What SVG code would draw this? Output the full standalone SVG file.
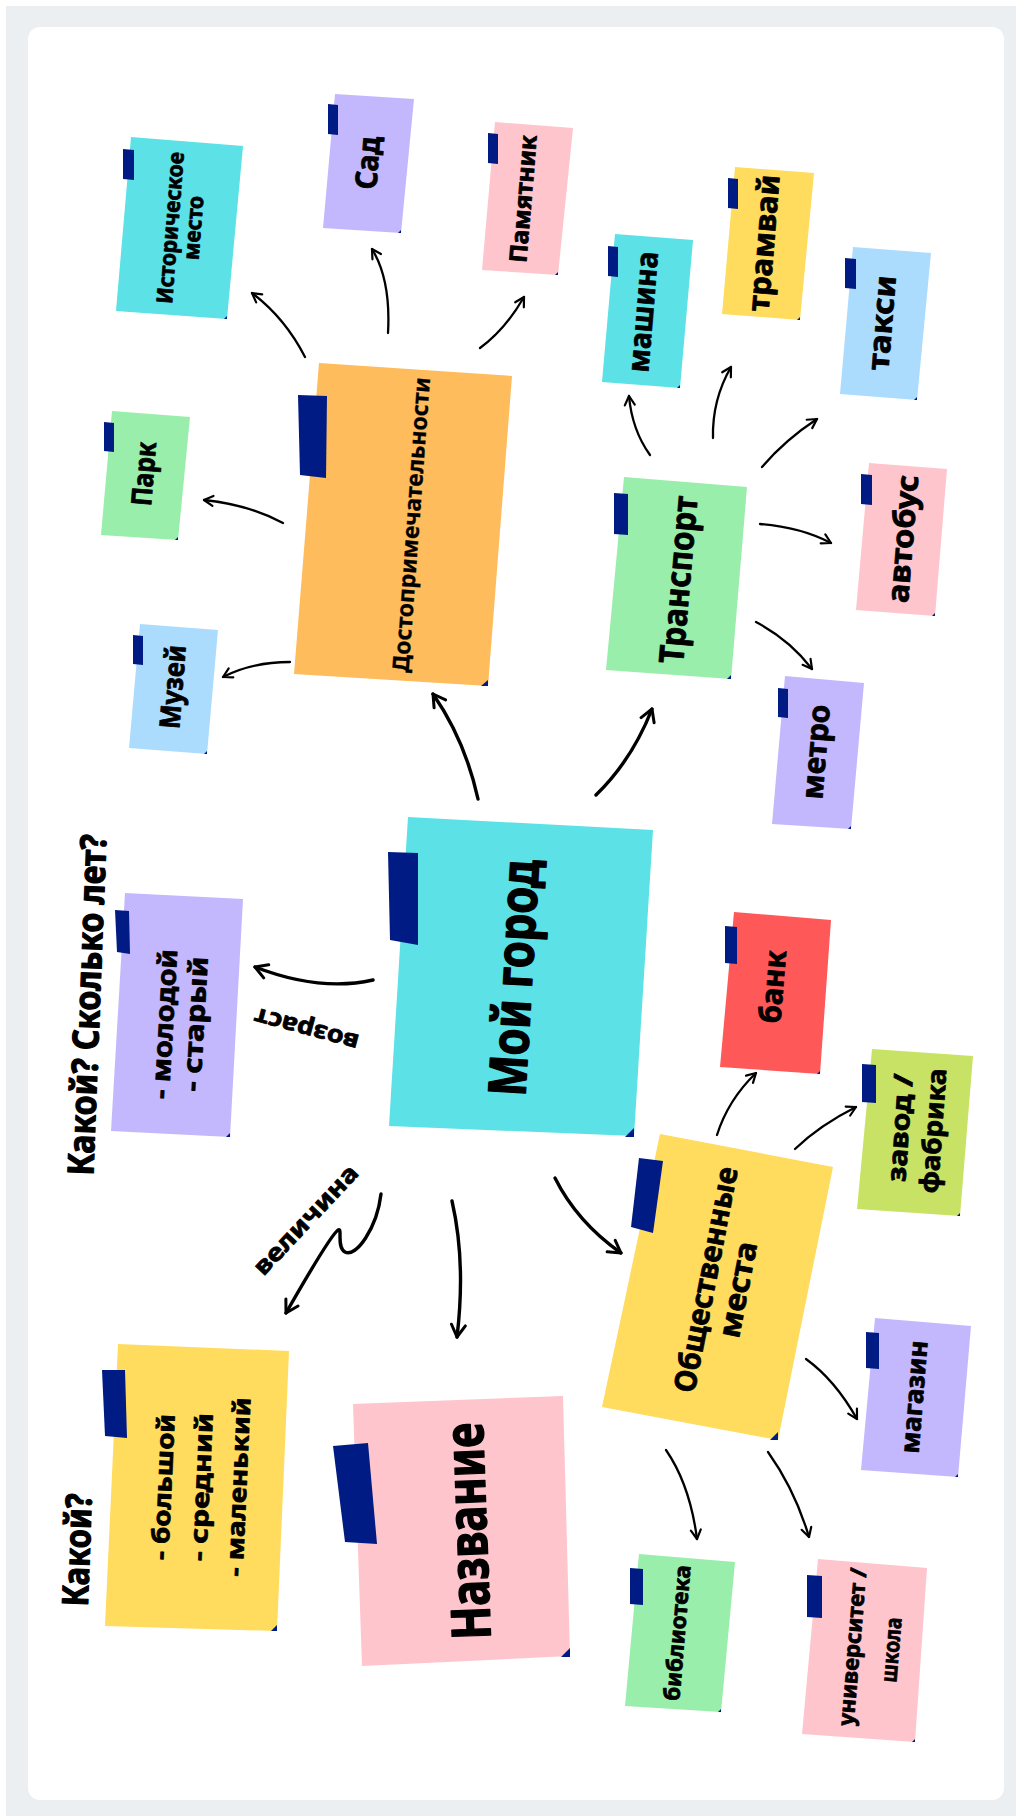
<svg xmlns="http://www.w3.org/2000/svg" width="1016" height="1816" viewBox="0 0 1016 1816">
<defs>
<style>
.t{font-family:"Noto Sans","DejaVu Sans",sans-serif;font-weight:700;fill:#000;stroke:#000;stroke-width:0.8px;stroke-linejoin:round;text-anchor:middle;dominant-baseline:middle}
.lt{stroke-width:0.3px}
.cyan{fill:#5CE1E6}.purple{fill:#C3B8FD}.pink{fill:#FEC5CD}.yellow{fill:#FFDB5E}.blue{fill:#ABDCFE}.green{fill:#98EEAA}.orange{fill:#FEBC5C}.red{fill:#FF5858}.lime{fill:#C8E265}
.tape,.curl{fill:#011B85}
.c{fill:none;stroke:#000;stroke-linecap:round;stroke-linejoin:round}
.c1{stroke-width:3.4;marker-end:url(#ah)}
.c2{stroke-width:2.3;marker-end:url(#as)}
</style>
<marker id="ah" viewBox="-2 -2 16 18" refX="12" refY="7" markerWidth="16" markerHeight="18" orient="auto" markerUnits="userSpaceOnUse"><path d="M0,0 L12,7 L0,14" fill="none" stroke="#000" stroke-width="3" stroke-linecap="round" stroke-linejoin="round"/></marker>
<marker id="as" viewBox="-2 -2 13 14" refX="9" refY="5" markerWidth="13" markerHeight="14" orient="auto" markerUnits="userSpaceOnUse"><path d="M0,0 L9,5 L0,10" fill="none" stroke="#000" stroke-width="2.2" stroke-linecap="round" stroke-linejoin="round"/></marker>
</defs>
<rect x="6" y="6" width="1010" height="1810" fill="#ECEFF2"/>
<rect x="28" y="27" width="976" height="1773" rx="12" fill="#FFFFFF"/>

<g id="connectors">
<path class="c c2" d="M305,357 Q285,318 252,293"/>
<path class="c c2" d="M388,333 Q391,280 372,249"/>
<path class="c c2" d="M480,348 Q505,330 524,297"/>
<path class="c c2" d="M283,523 Q250,505 204,500"/>
<path class="c c2" d="M290,662 Q252,662 223,677"/>
<path class="c c2" d="M650,455 Q632,430 629,396"/>
<path class="c c2" d="M713,438 Q712,400 731,367"/>
<path class="c c2" d="M762,467 Q785,440 817,419"/>
<path class="c c2" d="M760,524 Q800,527 831,543"/>
<path class="c c2" d="M756,622 Q790,640 812,669"/>
<path class="c c1" d="M478,799 Q465,740 433,694"/>
<path class="c c1" d="M596,795 Q632,760 652,709"/>
<path class="c c1" d="M373,980 Q320,992 255,967"/>
<path class="c c1" d="M381,1194 C377,1228 356,1258 345,1252 C336,1247 343,1227 338,1230 Q330,1236 286,1313"/>
<path class="c c1" d="M452,1201 Q466,1262 457,1337"/>
<path class="c c1" d="M555,1178 Q577,1222 621,1253"/>
<path class="c c2" d="M717,1135 Q728,1100 756,1073"/>
<path class="c c2" d="M795,1149 Q820,1125 856,1107"/>
<path class="c c2" d="M806,1359 Q835,1380 857,1419"/>
<path class="c c2" d="M666,1450 Q690,1485 697,1539"/>
<path class="c c2" d="M768,1452 Q795,1490 809,1537"/>
</g>

<g id="n-istoricheskoe">
<polygon class="cyan" points="131,137 243,146 227,319 116,311"/>
<polygon class="tape" points="123,149 134,150 134,180 123,179"/>
<polygon class="curl" points="224,319 227,316 227,319"/>
<text class="t" transform="translate(172,228) rotate(-85.4)" font-size="22" textLength="152" lengthAdjust="spacingAndGlyphs">Историческое</text>
<text class="t" transform="translate(195,228) rotate(-85.4)" font-size="22" textLength="64" lengthAdjust="spacingAndGlyphs">место</text>
</g>

<g id="n-sad">
<polygon class="purple" points="335,94 414,99 401,233 323,228"/>
<polygon class="tape" points="328,104 338,105 338,135 328,134"/>
<polygon class="curl" points="398,233 401,230 401,233"/>
<text class="t" transform="translate(370,163) rotate(-85.7)" font-size="30" textLength="53" lengthAdjust="spacingAndGlyphs">Сад</text>
</g>

<g id="n-pamyatnik">
<polygon class="pink" points="495,122 573,128 558,275 482,270"/>
<polygon class="tape" points="488,133 498,134 498,164 488,163"/>
<polygon class="curl" points="555,275 558,272 558,275"/>
<text class="t" transform="translate(525,199) rotate(-85.3)" font-size="24" textLength="128" lengthAdjust="spacingAndGlyphs">Памятник</text>
</g>

<g id="n-mashina">
<polygon class="cyan" points="615,234 693,240 680,388 602,382"/>
<polygon class="tape" points="608,246 618,247 618,277 608,276"/>
<polygon class="curl" points="677,388 680,385 680,388"/>
<text class="t" transform="translate(645,312) rotate(-85.3)" font-size="30" textLength="121" lengthAdjust="spacingAndGlyphs">машина</text>
</g>

<g id="n-tramvay">
<polygon class="yellow" points="735,167 814,173 800,320 722,314"/>
<polygon class="tape" points="728,178 738,179 738,209 728,208"/>
<polygon class="curl" points="797,320 800,317 800,320"/>
<text class="t" transform="translate(766,243) rotate(-85.3)" font-size="30" textLength="137" lengthAdjust="spacingAndGlyphs">трамвай</text>
</g>

<g id="n-taksi">
<polygon class="blue" points="853,247 931,253 917,400 840,394"/>
<polygon class="tape" points="845,258 856,259 856,289 845,288"/>
<polygon class="curl" points="914,400 917,397 917,400"/>
<text class="t" transform="translate(884,323) rotate(-85.4)" font-size="30" textLength="95" lengthAdjust="spacingAndGlyphs">такси</text>
</g>

<g id="n-avtobus">
<polygon class="pink" points="869,463 947,469 935,616 856,610"/>
<polygon class="tape" points="861,474 872,475 872,505 861,504"/>
<polygon class="curl" points="932,616 935,613 935,616"/>
<text class="t" transform="translate(905,539) rotate(-85.4)" font-size="30" textLength="128" lengthAdjust="spacingAndGlyphs">автобус</text>
</g>

<g id="n-transport">
<polygon class="green" points="624,477 747,487 731,679 606,670"/>
<polygon class="tape" points="614,493 628,494 628,535 614,534"/>
<polygon class="curl" points="727,679 731,675 731,679"/>
<text class="t" transform="translate(681,580) rotate(-85)" font-size="34" textLength="168" lengthAdjust="spacingAndGlyphs">Транспорт</text>
</g>

<g id="n-metro">
<polygon class="purple" points="785,676 864,683 851,829 772,824"/>
<polygon class="tape" points="778,688 788,689 788,718 778,717"/>
<polygon class="curl" points="848,829 851,826 851,829"/>
<text class="t" transform="translate(818,752) rotate(-85.3)" font-size="30" textLength="95" lengthAdjust="spacingAndGlyphs">метро</text>
</g>

<g id="n-dostoprimechatelnosti">
<polygon class="orange" points="319,363 512,376 488,686 294,674"/>
<polygon class="tape" points="298,395 327,396 326,478 300,475"/>
<polygon class="curl" points="481,686 488,680 488,686"/>
<text class="t lt" transform="translate(413,525) rotate(-85.8)" font-size="23" textLength="296" lengthAdjust="spacingAndGlyphs">Достопримечательности</text>
</g>

<g id="n-park">
<polygon class="green" points="112,411 190,417 178,540 101,535"/>
<polygon class="tape" points="104,422 114,423 114,452 104,451"/>
<polygon class="curl" points="175,540 178,537 178,540"/>
<text class="t" transform="translate(146,474) rotate(-85.4)" font-size="28" textLength="64" lengthAdjust="spacingAndGlyphs">Парк</text>
</g>

<g id="n-muzey">
<polygon class="blue" points="140,624 218,630 207,754 129,748"/>
<polygon class="tape" points="133,635 143,636 143,665 133,664"/>
<polygon class="curl" points="204,754 207,751 207,754"/>
<text class="t" transform="translate(175,687) rotate(-85.4)" font-size="28" textLength="84" lengthAdjust="spacingAndGlyphs">Музей</text>
</g>

<g id="n-moy-gorod">
<polygon class="cyan" points="408,817 653,830 634,1136 389,1126"/>
<polygon class="tape" points="388,852 418,853 418,945 390,940"/>
<polygon class="curl" points="625,1137 634,1128 634,1137"/>
<text class="t" transform="translate(518,978) rotate(-86.7)" font-size="52" textLength="237" lengthAdjust="spacingAndGlyphs" style="stroke-width:1.4px">Мой город</text>
</g>

<g id="n-vozrast">
<polygon class="purple" points="125,893 243,899 230,1137 111,1131"/>
<polygon class="tape" points="115,910 129,911 130,954 117,952"/>
<polygon class="curl" points="226,1137 230,1133 230,1137"/>
<text class="t" transform="translate(166,1024) rotate(-86.8)" font-size="26" textLength="150" lengthAdjust="spacingAndGlyphs">- молодой</text>
<text class="t" transform="translate(197,1024) rotate(-86.8)" font-size="26" textLength="135" lengthAdjust="spacingAndGlyphs">- старый</text>
</g>

<g id="n-velichina">
<polygon class="yellow" points="118,1344 289,1351 277,1631 105,1626"/>
<polygon class="tape" points="102,1370 125,1370 127,1438 105,1436"/>
<polygon class="curl" points="271,1631 277,1625 277,1631"/>
<text class="t" transform="translate(165,1487) rotate(-87.5)" font-size="24" textLength="146" lengthAdjust="spacingAndGlyphs">- большой</text>
<text class="t" transform="translate(203,1487) rotate(-87.5)" font-size="24" textLength="148" lengthAdjust="spacingAndGlyphs">- средний</text>
<text class="t" transform="translate(240,1487) rotate(-87.5)" font-size="24" textLength="179" lengthAdjust="spacingAndGlyphs">- маленький</text>
</g>

<g id="n-nazvanie">
<polygon class="pink" points="353,1404 563,1396 570,1656 362,1666"/>
<polygon class="tape" points="333,1446 368,1443 377,1544 345,1542"/>
<polygon class="curl" points="561,1657 570,1648 570,1657"/>
<text class="t" transform="translate(472,1531) rotate(-92.1)" font-size="54" textLength="217" lengthAdjust="spacingAndGlyphs" style="stroke-width:1.4px">Название</text>
</g>

<g id="n-obshchestvennye">
<polygon class="yellow" points="660,1134 833,1167 778,1440 602,1407"/>
<polygon class="tape" points="639,1158 663,1161 653,1233 631,1227"/>
<polygon class="curl" points="770,1440 778,1432 778,1440"/>
<text class="t" transform="translate(708,1280) rotate(-79)" font-size="30" textLength="229" lengthAdjust="spacingAndGlyphs">Общественные</text>
<text class="t" transform="translate(740,1290) rotate(-79)" font-size="30" textLength="97" lengthAdjust="spacingAndGlyphs">места</text>
</g>

<g id="n-bank">
<polygon class="red" points="734,912 831,920 820,1074 720,1067"/>
<polygon class="tape" points="725,926 737,927 737,964 725,963"/>
<polygon class="curl" points="817,1074 820,1071 820,1074"/>
<text class="t" transform="translate(775,987) rotate(-85.3)" font-size="30" textLength="73" lengthAdjust="spacingAndGlyphs">банк</text>
</g>

<g id="n-zavod">
<polygon class="lime" points="872,1049 973,1056 960,1216 857,1209"/>
<polygon class="tape" points="862,1064 876,1065 876,1103 862,1102"/>
<polygon class="curl" points="957,1216 960,1213 960,1216"/>
<text class="t" transform="translate(902,1128) rotate(-86)" font-size="26" textLength="108" lengthAdjust="spacingAndGlyphs">завод /</text>
<text class="t" transform="translate(935,1131) rotate(-86)" font-size="26" textLength="125" lengthAdjust="spacingAndGlyphs">фабрика</text>
</g>

<g id="n-magazin">
<polygon class="purple" points="875,1318 971,1326 958,1477 861,1470"/>
<polygon class="tape" points="866,1332 879,1333 879,1369 866,1368"/>
<polygon class="curl" points="955,1477 958,1474 958,1477"/>
<text class="t" transform="translate(916,1397) rotate(-85.3)" font-size="26" textLength="113" lengthAdjust="spacingAndGlyphs">магазин</text>
</g>

<g id="n-biblioteka">
<polygon class="green" points="639,1554 735,1562 721,1712 625,1706"/>
<polygon class="tape" points="630,1568 643,1569 643,1605 630,1604"/>
<polygon class="curl" points="718,1712 721,1709 721,1712"/>
<text class="t" transform="translate(679,1633) rotate(-85.2)" font-size="22" textLength="136" lengthAdjust="spacingAndGlyphs">библиотека</text>
</g>

<g id="n-universitet">
<polygon class="pink" points="818,1559 927,1568 915,1742 802,1734"/>
<polygon class="tape" points="807,1575 822,1576 822,1618 807,1617"/>
<polygon class="curl" points="912,1742 915,1739 915,1742"/>
<text class="t" transform="translate(854,1647) rotate(-85.3)" font-size="22" textLength="158" lengthAdjust="spacingAndGlyphs">университет /</text>
<text class="t" transform="translate(893,1650) rotate(-85.3)" font-size="22" textLength="65" lengthAdjust="spacingAndGlyphs">школа</text>
</g>

<g id="labels">
<text class="t" transform="translate(90,1005) rotate(-87.8)" font-size="36" textLength="341" lengthAdjust="spacingAndGlyphs" style="stroke-width:1.2px">Какой? Сколько лет?</text>
<text class="t" transform="translate(80,1550) rotate(-88)" font-size="36" textLength="113" lengthAdjust="spacingAndGlyphs" style="stroke-width:1.2px">Какой?</text>
<text class="t" transform="translate(307,1028) rotate(195)" font-size="24" textLength="107" lengthAdjust="spacingAndGlyphs">возраст</text>
<text class="t" transform="translate(307,1221) rotate(-46.8)" font-size="24" textLength="141" lengthAdjust="spacingAndGlyphs">величина</text>
</g>
</svg>
